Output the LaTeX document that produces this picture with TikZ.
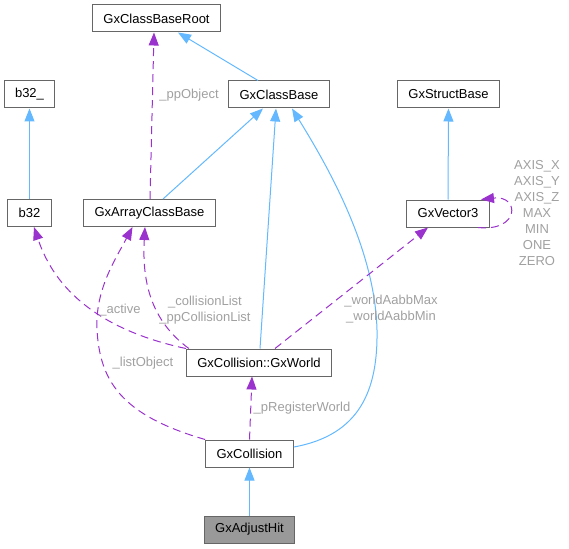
\documentclass[tikz,border=0pt]{standalone}
\usepackage{fontspec}
\setmainfont{Liberation Sans}
\usepackage{xcolor}
\usepackage{tikz}
\usetikzlibrary{arrows.meta}
\definecolor{edgeblue}{RGB}{99,184,255}
\definecolor{edgepurple}{RGB}{154,50,205}
\definecolor{boxgray}{RGB}{102,102,102}
\definecolor{hitgray}{RGB}{153,153,153}
\definecolor{labelgray}{RGB}{160,160,160}

\begin{document}
\begin{tikzpicture}[x=1pt,y=-1pt,
  cls/.style={draw=boxgray,fill=white,line width=1pt,inner xsep=11pt,minimum height=27pt,font=\fontsize{13}{16}\selectfont},
  inh/.style={edgeblue,line width=1pt,-{Triangle[length=13pt,width=10pt]}},
  use/.style={edgepurple,line width=1pt,dash pattern=on 8pt off 5pt,-{Triangle[length=13pt,width=10pt]}},
  lbl/.style={labelgray,font=\fontsize{13}{16}\selectfont,align=center,inner sep=0pt}]
  \useasboundingbox(0,0)rectangle(569,548);
  % classes
  \node[cls](root)at(156.5,18.5){GxClassBaseRoot};
  \node[cls](b32u)at(29.5,94.5){b32\_};
  \node[cls](cbase)at(279,94.5){GxClassBase};
  \node[cls](sbase)at(448.5,94.5){GxStructBase};
  \node[cls](b32)at(29.5,213){b32};
  \node[cls](arr)at(149.5,213){GxArrayClassBase};
  \node[cls](vec)at(448,213.5){GxVector3};
  \node[cls](wld)at(259,362.5){GxCollision::GxWorld};
  \node[cls](col)at(249.5,453.5){GxCollision};
  \node[cls,fill=hitgray](adj)at(249.5,529.5){GxAdjustHit};
  % inheritance
  \draw[inh](b32)--(b32u);
  \draw[inh](vec)--(sbase);
  \draw[inh](adj)--(col);
  \draw[inh]([xshift=-21pt]cbase.north)--([xshift=21.5pt]root.south);
  \draw[inh]([xshift=13.5pt]arr.north)--([xshift=-16pt]cbase.south);
  \draw[inh]([xshift=1pt]wld.north)--([xshift=-3pt]cbase.south);
  \draw[inh]([yshift=6.5pt]col.east)..controls(360,435)and(378,390)..(377,330)
    ..controls(375,250)and(330,170)..([xshift=13pt]cbase.south);
  % usage
  \draw[use]([xshift=0.5pt]arr.north)--([xshift=-2.5pt]root.south);
  \draw[use](wld.north west)..controls(100,330)and(55,290)..([xshift=4.5pt]b32.south);
  \draw[use]([xshift=3pt]wld.north west)..controls(150,320)and(142,280)..([xshift=-4.5pt]arr.south);
  \draw[use](col.north west)..controls(120,415)and(100,380)..(97,330)
    ..controls(95,290)and(115,260)..([xshift=-17pt]arr.south);
  \draw[use]([xshift=16pt]wld.north)--([xshift=-20pt]vec.south);
  \draw[use](col.north)--([xshift=-7pt]wld.south);
  \draw[use]([xshift=30pt]vec.south)..controls(520,232)and(520,195)..([xshift=33pt]vec.north);
  % member labels
  \node[lbl](lobj)at(189,95){\_ppObject};
  \node[lbl](lact)at(120,310){\_active};
  \node[lbl](lcoll)at(205,310){\_collisionList\\\_ppCollisionList};
  \node[lbl](llist)at(143,363){\_listObject};
  \node[lbl](laabb)at(391,309){\_worldAabbMax\\\_worldAabbMin};
  \node[lbl](lreg)at(302,408){\_pRegisterWorld};
  \node[lbl](laxis)at(537,213.5){AXIS\_X\\AXIS\_Y\\AXIS\_Z\\MAX\\MIN\\ONE\\ZERO};
\end{tikzpicture}
\end{document}
